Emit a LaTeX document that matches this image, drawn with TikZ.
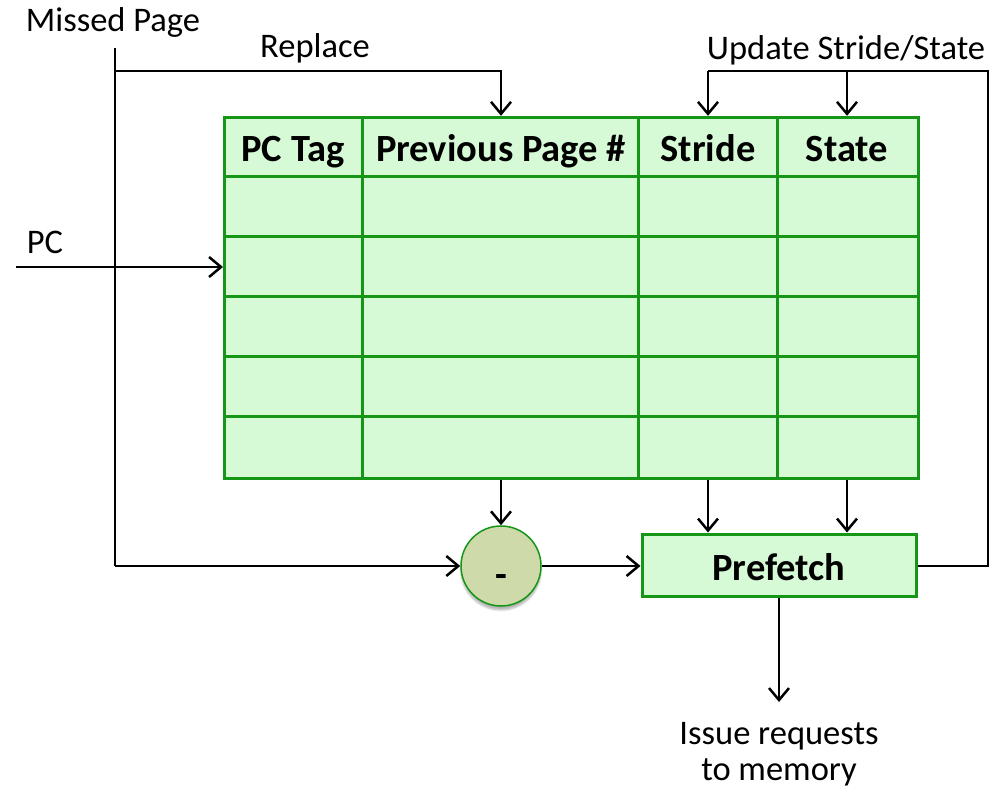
\documentclass[tikz,border=0pt]{standalone}
\usepackage{fontspec}
\setmainfont{Carlito}
\usetikzlibrary{arrows.meta,shadows.blur}

\definecolor{cellfill}{RGB}{213,250,213}
\definecolor{cellline}{RGB}{22,150,22}
\definecolor{opfill}{RGB}{206,218,170}

\tikzset{
  wire/.style={line width=2.5pt, black},
  arr/.style={wire, -{Straight Barb[length=12pt,width=20pt,line width=2.5pt]}},
  lbl/.style={font=\fontsize{34.5}{36}\selectfont, inner sep=0pt},
  hdr/.style={font=\bfseries\fontsize{38.5}{42}\selectfont, inner sep=0pt,
    text height=34pt, text depth=4pt},
  gridline/.style={draw=cellline, line width=3pt},
  headcell/.style={inner sep=0pt, minimum height=60pt, hdr},
}

\begin{document}
\begin{tikzpicture}[x=1pt,y=-1pt]
\useasboundingbox (0,0) rectangle (990,789);

% page table body
\node (tbl) [fill=cellfill, draw=cellline, line width=3pt, inner sep=0pt,
  minimum width=694pt, minimum height=361pt, anchor=north west] at (223,116) {};
\foreach \y in {176,236,296,356,416} \draw[gridline] (223,\y) -- (917,\y);
\foreach \x in {362,638,777} \draw[gridline] (\x,116) -- (\x,477);

% header cells
\node (pctag)  [headcell, minimum width=139pt] at (293,146) {PC Tag};
\node (prev)   [headcell, minimum width=276pt] at (501,146) {Previous Page \#};
\node (stride) [headcell, minimum width=139pt] at (708,146) {Stride};
\node (state)  [headcell, minimum width=140pt] at (847,146) {State};

% subtractor and prefetch unit
\node (sub) [circle, draw=cellline, line width=1.5pt, fill=opfill, minimum size=80pt,
  inner sep=0pt, hdr, text height=46pt, text depth=4pt,
  blur shadow={shadow xshift=0pt, shadow yshift=-4pt, shadow blur steps=6, shadow opacity=30}]
  at (501,566) {-};
\node (pf) [fill=cellfill, draw=cellline, line width=3pt, inner sep=0pt,
  minimum width=274pt, minimum height=62pt, hdr] at (779,565) {Prefetch};

% labels
\node (mp)  [lbl, anchor=base] at (113,32) {Missed Page};
\node (rep) [lbl, anchor=base] at (315,58) {Replace};
\node (upd) [lbl, anchor=base] at (846,60) {Update Stride/State};
\node (pc)  [lbl, anchor=base] at (45,253) {PC};
\node (out) [lbl, anchor=north, align=center] at (779,722) {Issue requests\\to memory};

% wiring
\coordinate (mpTop) at (115,48);
\coordinate (mpRep) at (115,71);
\coordinate (mpSub) at (115,566);
\coordinate (pcIn)  at (16,267);
\coordinate (updL)  at (708,71);
\coordinate (updR)  at (988,71);
\coordinate (updB)  at (988,566);
\coordinate (outEnd) at (779,702);

\draw[wire] (mpTop) -- (mpSub);
\draw[arr] (mpSub) -- (sub.west);
\draw[arr] (mpRep) -| (prev.north);
\draw[arr] (pcIn) -- (pcIn -| tbl.west);

\draw[arr] (updL) -- (stride.north);
\draw[wire] (updL) -- (updR) -- (updB) -- (pf.east |- updB);
\draw[arr] (state.north |- updL) -- (state.north);

\draw[arr] (sub |- tbl.south) -- (sub.north);
\draw[arr] (stride |- tbl.south) -- (stride |- pf.north);
\draw[arr] (state |- tbl.south) -- (state |- pf.north);
\draw[arr] (sub.east) -- (pf.west |- sub.east);
\draw[arr] (pf.south) -- (outEnd);
\end{tikzpicture}
\end{document}
